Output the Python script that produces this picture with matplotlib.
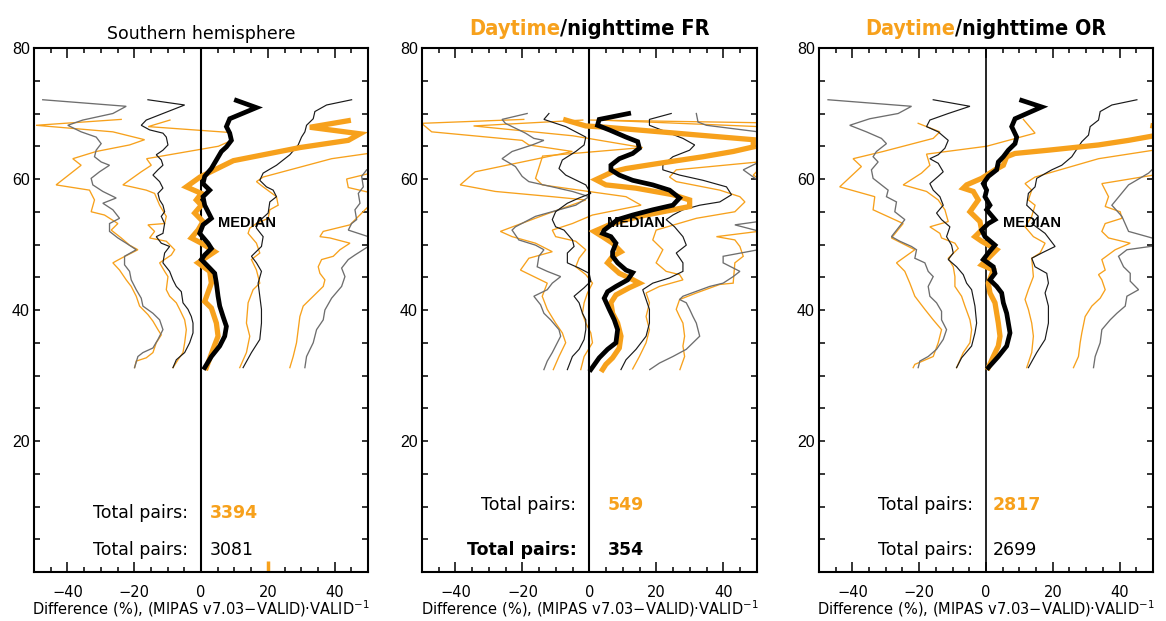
import matplotlib.pyplot as plt
from matplotlib import font_manager as fm
from matplotlib.ticker import FixedLocator, MultipleLocator

ORANGE = '#F7A11C'
GREY = '#6E6E6E'

# ---- Southern hemisphere: (difference %, altitude km), top to bottom ----
sh_night_med = [(10.6, 72.0), (16.6, 70.9), (8.6, 69.2), (7.6, 68.0), (8.6, 67.0), (9.1, 65.9),
                (7.6, 64.9), (6.1, 64.2), (4.6, 62.9), (3.1, 61.6), (1.1, 60.4), (0.6, 59.3),
                (2.6, 58.3), (0.6, 57.3), (1.1, 56.0), (3.1, 54.0), (0.6, 53.0), (-0.4, 51.7),
                (2.1, 50.2), (3.1, 49.4), (1.1, 48.4), (0.1, 47.7), (2.6, 46.4), (4.1, 45.6),
                (4.6, 44.1), (5.1, 42.1), (5.6, 40.6), (6.6, 39.0), (7.6, 37.5), (7.1, 36.0),
                (5.6, 34.5), (3.1, 32.9), (1.1, 31.2)]
sh_day_med = [(44.1, 68.9), (32.6, 67.9), (47.6, 66.9), (44.1, 65.9), (29.6, 64.8), (9.7, 62.8),
              (3.7, 61.3), (-0.3, 60.3), (-4.4, 58.8), (0.1, 57.8), (-1.4, 56.8), (0.1, 56.0),
              (-1.9, 54.8), (0.6, 53.5), (-0.9, 52.2), (-2.9, 51.0), (0.1, 50.2), (4.1, 48.9),
              (-0.9, 47.2), (2.6, 45.9), (3.1, 44.1), (1.1, 41.3), (3.1, 40.3), (4.6, 38.0),
              (5.1, 36.0), (3.6, 34.0), (1.6, 31.2)]
sh_night_p75 = [(45.1, 72.1), (37.6, 71.3), (34.1, 70.3), (33.6, 69.2), (31.6, 68.2), (31.1, 67.2),
                (30.1, 66.4), (29.1, 65.2), (26.6, 63.7), (22.6, 62.1), (18.6, 60.9), (17.6, 59.8),
                (19.6, 58.8), (21.6, 58.3), (22.6, 57.3), (20.6, 56.5), (20.1, 54.8), (16.6, 53.2),
                (16.6, 52.5), (18.6, 51.2), (18.1, 49.7), (15.1, 48.2), (16.6, 47.2), (18.1, 45.9),
                (17.1, 44.1), (17.6, 42.1), (18.1, 40.1), (18.1, 38.0), (17.6, 35.5), (15.1, 33.5),
                (12.6, 31.2)]
sh_day_p75 = [(72.0, 69.0), (60.0, 64.8), (50.1, 63.9), (39.1, 63.1), (18.6, 60.3), (16.6, 59.6),
              (18.6, 58.8), (22.6, 57.3), (23.1, 56.0), (20.6, 55.3), (20.1, 54.0), (16.6, 53.2),
              (14.6, 52.5), (14.1, 51.7), (16.6, 50.2), (17.6, 48.7), (15.1, 47.7), (16.6, 46.1),
              (17.6, 44.1), (15.6, 43.1), (14.1, 41.1), (13.6, 38.0), (14.6, 36.0), (13.6, 33.5),
              (11.6, 31.2)]
sh_night_p90 = [(70.0, 72.0), (62.0, 66.0), (56.0, 62.5), (49.6, 61.4), (48.1, 60.4), (48.6, 58.8),
                (47.1, 57.8), (47.6, 56.3), (46.1, 55.3), (46.6, 53.8), (45.1, 53.2), (44.1, 52.2),
                (50.1, 51.2), (55.0, 50.5), (50.1, 49.7), (46.1, 48.4), (44.1, 47.7), (42.1, 46.4),
                (43.1, 45.1), (42.1, 43.6), (39.1, 41.8), (37.1, 40.0), (36.6, 38.5), (34.6, 37.0),
                (33.6, 35.0), (31.6, 32.9), (31.1, 31.2)]
sh_day_p90 = [(80.0, 69.0), (66.0, 62.5), (50.0, 60.8), (43.6, 60.0), (44.1, 58.7), (50.0, 58.0),
              (57.0, 57.0), (50.1, 55.8), (44.6, 53.0), (36.6, 52.0), (35.6, 51.2), (38.6, 51.0),
              (44.6, 50.2), (41.6, 49.2), (39.6, 48.2), (36.1, 47.7), (35.1, 46.6), (35.6, 45.6),
              (37.1, 44.6), (36.6, 43.6), (34.6, 42.6), (32.6, 41.6), (30.6, 40.6), (29.6, 39.0),
              (29.1, 37.0), (28.6, 35.0), (27.6, 32.9), (26.6, 31.2)]
sh_night_p25 = [(-15.9, 72.1), (-4.9, 71.3), (-11.4, 70.0), (-16.4, 69.0), (-17.9, 68.2), (-15.4, 67.5),
                (-11.4, 67.0), (-10.4, 66.4), (-9.9, 65.2), (-11.4, 64.4), (-13.4, 63.7), (-11.9, 62.9),
                (-11.4, 62.1), (-12.9, 61.4), (-14.4, 60.6), (-12.4, 59.6), (-11.4, 58.6), (-12.9, 57.8),
                (-12.4, 56.8), (-11.4, 56.0), (-10.9, 55.0), (-11.9, 54.3), (-10.9, 53.2), (-11.4, 51.7),
                (-13.4, 51.2), (-11.9, 50.2), (-9.4, 49.7), (-10.9, 48.7), (-11.4, 47.2), (-9.4, 45.9),
                (-8.4, 44.6), (-7.4, 43.6), (-5.9, 42.8), (-5.4, 41.1), (-3.9, 40.1), (-2.9, 39.0),
                (-2.4, 38.0), (-2.4, 36.5), (-3.4, 35.0), (-4.9, 33.5), (-7.4, 32.4), (-8.4, 31.2)]
sh_day_p25 = [(-9.3, 69.0), (-15.8, 68.0), (8.7, 67.1), (9.2, 65.9), (5.2, 65.0), (-16.3, 63.1),
              (-14.9, 62.1), (-17.9, 61.1), (-23.4, 59.1), (-16.4, 58.3), (-13.9, 57.8), (-12.4, 56.0),
              (-10.4, 54.3), (-10.9, 53.2), (-15.9, 53.0), (-13.9, 52.0), (-15.4, 51.0), (-10.4, 50.5),
              (-7.9, 49.2), (-8.9, 48.4), (-12.4, 47.2), (-10.9, 45.9), (-9.9, 45.1), (-10.4, 43.1),
              (-9.4, 42.1), (-7.4, 41.1), (-6.4, 40.1), (-4.9, 38.5), (-4.4, 37.0), (-4.9, 35.0),
              (-5.4, 33.5), (-6.9, 32.4), (-8.4, 31.2)]
sh_night_p10 = [(-47.4, 72.1), (-22.4, 71.1), (-26.4, 70.0), (-35.4, 69.0), (-39.9, 68.2), (-35.9, 67.2),
                (-31.4, 66.4), (-29.9, 65.4), (-31.4, 64.4), (-31.9, 63.4), (-29.9, 62.6), (-27.4, 62.1),
                (-30.4, 61.1), (-32.9, 60.1), (-32.4, 59.1), (-29.4, 58.1), (-25.4, 57.1), (-29.4, 56.3),
                (-26.4, 55.3), (-24.4, 54.0), (-27.4, 53.2), (-27.4, 52.0), (-24.9, 51.0), (-22.4, 50.2),
                (-19.4, 49.2), (-22.9, 48.2), (-22.9, 46.9), (-21.4, 45.9), (-20.9, 44.6), (-19.4, 43.1),
                (-17.9, 41.8), (-17.4, 40.6), (-14.4, 39.5), (-12.4, 38.5), (-11.4, 37.0), (-12.9, 35.5),
                (-14.4, 34.2), (-17.4, 33.5), (-18.9, 32.9), (-19.9, 31.2)]
sh_day_p10 = [(-23.9, 69.1), (-49.4, 68.2), (-26.4, 67.2), (-16.9, 66.0), (-21.4, 65.2), (-31.4, 64.2),
              (-38.4, 63.1), (-35.9, 62.1), (-43.4, 59.1), (-33.4, 58.3), (-31.9, 56.8), (-32.9, 55.0),
              (-28.9, 54.5), (-24.9, 53.2), (-26.9, 52.2), (-23.9, 51.0), (-21.4, 49.9), (-18.9, 49.2),
              (-23.9, 47.9), (-26.4, 47.2), (-24.4, 46.1), (-22.4, 44.6), (-20.9, 43.6), (-19.4, 42.1),
              (-18.4, 40.6), (-15.9, 39.3), (-14.4, 38.3), (-12.9, 37.0), (-11.9, 36.2), (-13.4, 35.0),
              (-14.4, 33.5), (-16.4, 32.7), (-19.4, 32.2), (-19.9, 31.2)]
sh_day_marker = [(20.0, 0.0), (20.0, 1.7)]

# ---- Full resolution ----
fr_night_med = [(11.7, 70.0), (2.9, 69.1), (2.4, 68.2), (5.9, 67.5), (10.9, 66.4), (14.4, 65.7),
                (14.9, 64.7), (12.9, 63.9), (8.9, 63.1), (6.4, 62.1), (6.4, 61.4), (8.9, 60.6),
                (12.9, 59.8), (18.9, 59.1), (23.9, 58.3), (26.9, 57.1), (24.9, 56.0), (18.9, 55.3),
                (12.9, 54.5), (8.4, 53.8), (6.4, 53.0), (4.4, 52.2), (3.9, 51.7), (6.4, 51.2),
                (7.9, 50.2), (6.9, 48.9), (6.9, 48.2), (8.4, 47.2), (10.9, 46.1), (12.9, 45.7),
                (11.4, 44.6), (7.9, 43.6), (5.4, 42.8), (4.4, 41.8), (5.9, 40.1), (7.4, 38.5),
                (8.4, 37.0), (7.9, 35.0), (5.4, 34.0), (2.9, 32.7), (0.4, 30.9)]
fr_day_med = [(-7.1, 69.0), (-1.1, 68.1), (4.9, 67.9), (48.9, 66.0), (48.9, 64.9), (42.9, 64.2),
              (33.9, 63.4), (20.9, 62.4), (10.9, 61.6), (6.9, 61.1), (1.9, 59.9), (4.9, 59.1),
              (13.9, 58.6), (24.9, 57.6), (29.9, 56.8), (29.9, 55.8), (24.9, 55.3), (16.9, 54.5),
              (10.9, 53.8), (5.9, 53.0), (1.4, 52.0), (3.9, 51.2), (6.9, 50.2), (9.4, 48.9),
              (6.9, 48.2), (5.4, 47.2), (8.9, 45.6), (11.9, 44.9), (14.9, 44.1), (11.9, 43.4),
              (7.9, 42.3), (6.4, 41.1), (6.9, 39.5), (8.4, 38.0), (9.4, 36.0), (8.9, 34.2),
              (6.9, 32.7), (4.9, 31.7), (3.9, 30.9)]
fr_night_p75 = [(24.4, 70.0), (17.9, 69.1), (17.9, 68.2), (22.9, 67.2), (27.9, 66.2), (31.4, 65.2),
                (29.9, 64.4), (24.9, 63.4), (21.9, 62.1), (21.9, 61.4), (26.9, 60.6), (33.9, 59.8),
                (40.9, 58.8), (42.4, 57.6), (38.9, 56.5), (32.9, 56.0), (27.9, 55.3), (24.9, 54.5),
                (22.9, 53.8), (25.4, 52.7), (27.9, 51.2), (28.9, 49.9), (25.9, 48.7), (27.9, 47.2),
                (27.9, 45.9), (23.9, 44.9), (18.9, 44.1), (15.9, 43.1), (16.9, 41.6), (17.9, 40.1),
                (17.9, 38.0), (16.9, 36.0), (13.9, 34.0), (10.9, 32.4), (9.4, 30.9)]
fr_day_p75 = [(0.4, 69.0), (62.0, 68.5), (66.0, 64.0), (50.4, 62.6), (25.9, 61.4), (23.9, 60.3),
              (25.9, 59.6), (38.9, 58.3), (44.9, 57.3), (46.4, 56.5), (43.4, 55.0), (31.9, 54.0),
              (19.9, 52.2), (18.9, 50.7), (21.9, 49.2), (19.9, 47.2), (22.9, 45.9), (26.9, 45.4),
              (27.9, 44.6), (20.9, 43.6), (16.9, 42.6), (17.9, 41.1), (16.9, 39.0), (17.9, 37.0),
              (16.9, 35.0), (14.9, 32.9), (12.9, 31.0)]
fr_night_p90 = [(31.9, 70.0), (32.4, 68.7), (34.9, 68.2), (50.4, 67.2), (62.0, 64.5), (49.9, 62.4),
                (45.9, 61.4), (48.9, 60.3), (58.0, 57.0), (50.4, 53.5), (43.4, 53.0), (49.4, 52.2),
                (58.0, 51.0), (50.4, 49.2), (39.9, 48.2), (39.9, 47.2), (44.9, 45.9), (42.9, 45.1),
                (39.9, 44.1), (35.9, 43.6), (27.9, 42.1), (26.9, 41.6), (28.9, 41.1), (29.9, 40.1),
                (30.9, 39.0), (31.9, 38.0), (32.9, 36.0), (28.9, 34.0), (24.9, 32.9), (20.9, 31.9),
                (18.0, 30.9)]
fr_day_p90 = [(3.0, 69.0), (60.0, 67.8), (64.0, 62.5), (50.4, 61.4), (48.9, 60.6), (50.4, 60.1),
              (60.0, 56.0), (50.4, 52.0), (37.9, 51.2), (43.4, 50.7), (44.9, 49.7), (45.9, 48.2),
              (43.4, 47.2), (42.9, 44.1), (38.9, 43.9), (31.9, 42.6), (26.9, 41.6), (25.9, 40.1),
              (26.9, 39.0), (27.9, 38.0), (28.4, 36.0), (27.9, 34.5), (28.4, 32.9), (27.0, 30.9)]
fr_night_p25 = [(-12.1, 70.0), (-13.6, 69.1), (-7.1, 68.0), (-1.1, 66.4), (-1.6, 65.2), (-4.1, 64.2),
                (-8.1, 62.9), (-9.1, 61.6), (-7.1, 60.6), (-1.1, 59.1), (0.4, 57.8), (-3.1, 57.1),
                (-6.6, 56.3), (-10.1, 55.0), (-11.1, 53.8), (-10.1, 52.7), (-7.6, 52.2), (-5.1, 50.7),
                (-4.6, 49.7), (-6.6, 48.7), (-6.6, 47.2), (-3.1, 46.4), (-0.1, 45.6), (0.4, 44.4),
                (-1.6, 43.4), (-4.6, 42.1), (-3.1, 41.1), (-2.1, 39.5), (-1.1, 38.5), (-1.1, 37.0),
                (-1.6, 35.5), (-3.1, 34.0), (-5.1, 32.9), (-6.6, 30.9)]
fr_day_p25 = [(-2.0, 69.0), (-34.6, 68.1), (-5.0, 66.6), (15.9, 64.8), (-14.0, 63.5), (-16.1, 60.1),
              (-14.1, 59.1), (-3.1, 58.3), (10.9, 57.3), (15.4, 56.0), (0.9, 54.5), (-5.1, 53.2),
              (-11.1, 52.2), (-10.1, 51.2), (-4.1, 50.5), (-1.1, 49.2), (-3.1, 47.9), (-4.1, 46.6),
              (-1.1, 45.4), (0.9, 44.1), (-0.6, 42.6), (-1.6, 41.1), (-2.1, 39.5), (-1.1, 38.0),
              (0.4, 36.5), (0.9, 35.0), (-1.6, 32.9), (-2.6, 30.9)]
fr_night_p10 = [(-18.6, 70.0), (-26.1, 69.1), (-25.1, 68.5), (-19.1, 67.0), (-16.6, 66.2), (-13.6, 65.9),
                (-17.1, 65.2), (-23.1, 64.2), (-26.1, 63.1), (-22.1, 61.9), (-20.1, 60.4), (-18.1, 59.6),
                (-11.1, 58.8), (-5.1, 58.1), (-0.1, 57.3), (-4.1, 56.0), (-9.1, 55.3), (-16.1, 54.3),
                (-22.1, 52.7), (-23.1, 52.2), (-21.1, 50.7), (-16.1, 49.9), (-13.6, 49.2), (-15.1, 48.2),
                (-15.6, 46.6), (-12.6, 45.9), (-8.6, 45.1), (-11.1, 44.1), (-12.6, 43.1), (-16.6, 42.1),
                (-14.6, 40.8), (-13.6, 39.5), (-11.6, 38.5), (-9.1, 37.0), (-8.6, 36.0), (-9.6, 35.0),
                (-11.1, 33.5), (-12.6, 32.2), (-13.6, 30.9)]
fr_day_p10 = [(-19.6, 69.1), (-50.1, 68.5), (-47.1, 67.2), (-20.1, 65.9), (-18.1, 65.2), (-5.1, 64.2),
              (-34.1, 61.1), (-38.6, 59.1), (-28.1, 58.1), (-11.1, 57.3), (-1.1, 56.8), (-12.0, 54.8),
              (-26.6, 52.0), (-23.1, 51.2), (-16.1, 50.2), (-11.1, 48.9), (-18.1, 47.9), (-20.6, 46.1),
              (-12.6, 44.1), (-14.1, 42.1), (-12.6, 40.1), (-10.1, 38.0), (-8.1, 36.5), (-7.1, 35.0),
              (-9.1, 32.9), (-10.8, 30.9)]

# ---- Optimized resolution ----
or_night_med = [(10.7, 72.0), (16.7, 71.0), (8.7, 69.2), (7.7, 68.0), (9.2, 66.4), (8.7, 65.4),
                (6.7, 64.4), (5.2, 63.4), (3.7, 62.6), (3.2, 61.4), (0.7, 60.4), (-0.8, 59.3),
                (0.2, 58.3), (-0.3, 57.3), (1.2, 56.0), (0.2, 55.3), (2.7, 53.8), (0.7, 53.2),
                (-1.3, 52.2), (-0.3, 51.2), (2.7, 49.9), (0.7, 48.7), (-0.8, 47.7), (2.2, 46.6),
                (2.7, 45.6), (1.2, 44.6), (3.2, 43.6), (4.7, 42.6), (5.2, 41.1), (6.2, 39.5),
                (6.7, 38.0), (7.2, 36.5), (6.2, 34.5), (3.7, 32.9), (0.7, 31.2)]
or_day_med = [(50.0, 68.1), (58.0, 67.3), (42.7, 65.9), (33.7, 65.2), (18.7, 64.4), (8.7, 63.9),
              (6.2, 63.4), (5.2, 62.1), (2.7, 61.4), (-1.3, 60.1), (-5.8, 59.1), (-6.8, 58.6),
              (-3.8, 58.1), (-2.3, 56.8), (-4.8, 55.0), (-1.8, 53.5), (-1.3, 52.2), (-3.3, 51.2),
              (-1.3, 50.5), (3.2, 49.2), (-1.3, 46.9), (2.2, 46.1), (0.7, 44.1), (1.2, 42.6),
              (2.7, 41.1), (3.7, 38.0), (4.2, 36.0), (3.7, 34.5), (2.2, 32.9), (0.7, 31.2)]
or_night_p75 = [(45.2, 72.1), (37.7, 71.3), (34.2, 70.3), (33.7, 69.0), (31.2, 68.0), (30.7, 66.7),
                (28.7, 65.7), (25.7, 63.4), (22.7, 62.1), (19.7, 61.4), (15.2, 60.1), (14.7, 58.8),
                (12.7, 57.8), (12.2, 56.0), (15.7, 54.3), (13.7, 53.2), (17.7, 51.7), (20.7, 49.7),
                (16.7, 48.7), (13.7, 47.9), (14.7, 46.6), (18.2, 45.6), (18.7, 44.1), (17.7, 42.6),
                (18.7, 40.6), (18.7, 38.0), (17.7, 35.5), (15.2, 33.5), (12.7, 31.2)]
or_day_p75 = [(72.0, 69.0), (60.0, 65.2), (50.2, 64.4), (33.7, 63.1), (14.7, 60.3), (11.7, 59.3),
              (13.7, 58.3), (12.7, 56.8), (14.7, 56.0), (13.7, 54.3), (11.7, 52.7), (14.2, 51.2),
              (17.7, 50.2), (16.2, 48.7), (13.7, 47.9), (14.2, 45.1), (12.7, 43.1), (11.7, 41.6),
              (12.7, 40.1), (13.7, 38.0), (14.2, 36.0), (13.7, 33.5), (12.2, 31.2)]
or_night_p90 = [(70.0, 72.0), (62.0, 65.0), (49.7, 61.4), (48.7, 60.9), (42.7, 59.1), (37.7, 56.0),
                (40.7, 54.3), (42.7, 52.0), (49.7, 51.0), (58.0, 50.3), (49.2, 49.7), (42.2, 49.2),
                (39.7, 48.2), (41.2, 46.6), (43.2, 45.6), (43.2, 44.4), (45.7, 43.1), (42.2, 42.1),
                (41.7, 40.6), (39.2, 39.5), (37.2, 38.5), (34.7, 37.0), (34.2, 35.0), (32.7, 32.9),
                (32.2, 31.2)]
or_day_p90 = [(75.0, 68.0), (65.0, 62.0), (50.2, 60.6), (40.7, 59.8), (34.7, 59.3), (35.2, 58.8),
              (36.7, 57.3), (35.7, 55.8), (40.2, 55.0), (40.7, 54.0), (35.7, 53.2), (34.7, 52.0),
              (36.7, 51.0), (43.2, 50.2), (38.7, 49.2), (34.7, 47.7), (35.7, 46.1), (33.7, 45.4),
              (34.7, 44.6), (35.7, 43.1), (34.2, 41.8), (31.7, 40.6), (29.7, 39.0), (28.7, 36.5),
              (28.2, 35.0), (27.7, 32.9), (26.2, 31.2)]
or_night_p25 = [(-15.8, 72.1), (-4.8, 71.1), (-11.3, 70.0), (-16.8, 69.0), (-17.8, 68.0), (-14.3, 67.2),
                (-11.3, 65.9), (-12.3, 64.7), (-14.3, 63.7), (-16.8, 63.1), (-14.3, 62.4), (-12.8, 61.1),
                (-14.3, 60.4), (-16.8, 59.3), (-15.8, 58.3), (-13.8, 57.3), (-12.8, 56.0), (-14.8, 54.8),
                (-13.3, 53.8), (-10.8, 52.7), (-11.8, 51.2), (-10.3, 49.9), (-9.8, 48.7), (-11.3, 47.7),
                (-8.8, 46.6), (-6.8, 45.4), (-5.8, 44.1), (-4.3, 43.1), (-3.3, 40.6), (-2.8, 38.0),
                (-3.3, 36.5), (-4.3, 34.5), (-7.3, 32.7), (-8.8, 31.2)]
or_day_p25 = [(11.2, 69.1), (14.7, 67.0), (0.2, 65.0), (-17.8, 63.8), (-16.8, 62.1), (-19.3, 60.9),
              (-24.8, 59.1), (-17.8, 58.1), (-14.3, 56.8), (-12.3, 55.3), (-11.3, 53.5), (-16.8, 52.7),
              (-13.8, 51.7), (-13.3, 51.0), (-9.3, 50.2), (-8.3, 49.4), (-11.3, 47.9), (-9.8, 46.6),
              (-9.3, 45.1), (-9.3, 43.6), (-7.3, 42.1), (-6.3, 40.6), (-4.8, 38.5), (-4.3, 37.0),
              (-4.8, 35.0), (-6.8, 33.5), (-8.8, 31.2)]
or_night_p10 = [(-47.3, 72.1), (-22.3, 71.1), (-26.3, 70.0), (-34.8, 69.2), (-40.8, 68.2), (-35.8, 67.2),
                (-31.3, 66.2), (-29.8, 65.4), (-32.8, 64.2), (-33.8, 63.4), (-32.3, 62.6), (-34.3, 61.4),
                (-33.8, 60.1), (-31.3, 59.1), (-29.3, 58.3), (-29.8, 57.3), (-26.8, 56.5), (-27.3, 55.0),
                (-24.3, 53.8), (-28.3, 51.2), (-25.8, 50.5), (-22.3, 49.7), (-20.8, 49.2), (-21.3, 47.9),
                (-18.3, 47.2), (-17.3, 45.9), (-15.8, 45.1), (-17.3, 43.6), (-16.8, 42.1), (-14.8, 41.1),
                (-13.3, 39.8), (-13.3, 38.5), (-11.8, 37.0), (-12.8, 35.5), (-14.8, 34.0), (-17.3, 32.9),
                (-19.8, 32.2), (-20.3, 31.2)]
or_day_p10 = [(-20.3, 68.5), (-13.8, 67.2), (-15.8, 66.2), (-30.8, 64.2), (-39.8, 63.1), (-37.3, 61.9),
              (-43.8, 58.8), (-33.3, 57.3), (-33.8, 55.3), (-24.8, 53.2), (-28.3, 51.0), (-21.3, 49.2),
              (-26.8, 47.2), (-24.3, 45.9), (-22.8, 44.1), (-21.3, 42.1), (-18.3, 40.1), (-15.8, 38.5),
              (-13.3, 37.0), (-14.3, 35.0), (-15.8, 32.9), (-21.3, 31.7), (-21.8, 31.2)]

pairs_day = [3394, 549, 2817]
pairs_night = [3081, 354, 2699]

panels = [
    dict(night=[sh_night_p10, sh_night_p25, sh_night_p75, sh_night_p90], night_med=sh_night_med,
         day=[sh_day_p10, sh_day_p25, sh_day_p75, sh_day_p90], day_med=sh_day_med,
         pos=[0.0292, 0.0789, 0.2864, 0.8438], title=('Southern hemisphere', None),
         pairs_y=(9.0, 3.4), num_x=2.7, bold_night=False),
    dict(night=[fr_night_p10, fr_night_p25, fr_night_p75, fr_night_p90], night_med=fr_night_med,
         day=[fr_day_p10, fr_day_p25, fr_day_p75, fr_day_p90], day_med=fr_day_med,
         pos=[0.3619, 0.0789, 0.2873, 0.8438], title=('Daytime', '/nighttime FR'),
         pairs_y=(10.2, 3.4), num_x=5.5, bold_night=True),
    dict(night=[or_night_p10, or_night_p25, or_night_p75, or_night_p90], night_med=or_night_med,
         day=[or_day_p10, or_day_p25, or_day_p75, or_day_p90], day_med=or_day_med,
         pos=[0.7024, 0.0789, 0.2864, 0.8438], title=('Daytime', '/nighttime OR'),
         pairs_y=(10.2, 3.4), num_x=2.1, bold_night=False),
]


def narrow_bold_font(size):
    """Pick a narrow bold face for the day/night headings."""
    widths = ['ultra-condensed', 'extra-condensed', 'condensed', 'semi-condensed']
    found = []
    for f in fm.fontManager.ttflist:
        w = f.weight if isinstance(f.weight, int) else fm.weight_dict.get(f.weight, 400)
        if f.stretch in widths and f.style == 'normal' and w >= 600:
            found.append((widths.index(f.stretch), abs(w - 700), f.fname))
    if found:
        found.sort()
        return fm.FontProperties(fname=found[0][2], size=size)
    return fm.FontProperties(family=['Roboto', 'DejaVu Sans'], weight='bold', size=size)


def draw(ax, curve, **kw):
    xs = [p[0] for p in curve]
    ys = [p[1] for p in curve]
    ax.plot(xs, ys, solid_joinstyle='miter', **kw)


fig = plt.figure(figsize=(11.66, 6.21), dpi=100)
split_titles = []

for i, p in enumerate(panels):
    ax = fig.add_axes(p['pos'])
    ax.set_xlim(-50, 50)
    ax.set_ylim(0, 80)

    # outer and inner percentiles
    lo_n, in_n, in_n2, hi_n = p['night']
    for c in p['day']:
        draw(ax, c, color=ORANGE, lw=0.95)
    draw(ax, lo_n, color=GREY, lw=0.95)
    draw(ax, hi_n, color=GREY, lw=0.95)
    draw(ax, in_n, color='#1a1a1a', lw=0.85)
    draw(ax, in_n2, color='#1a1a1a', lw=0.85)

    ax.axvline(0, color='black', lw=1.5 if i < 2 else 1.2)
    draw(ax, p['day_med'], color=ORANGE, lw=3.8)
    draw(ax, p['night_med'], color='black', lw=3.4)
    if i == 0:
        draw(ax, sh_day_marker, color=ORANGE, lw=2.5, solid_capstyle='butt')

    ax.text(5.1, 53.3, 'MEDIAN', fontsize=10.5, family='Liberation Sans', fontweight='bold',
            va='center', ha='left')

    # pair counts
    y1, y2 = p['pairs_y']
    ax.text(-3.9, y1, 'Total pairs:', fontsize=12.5, ha='right', va='center')
    ax.text(-3.9, y2, 'Total pairs:', fontsize=12.5, ha='right', va='center',
            fontweight='bold' if p['bold_night'] else 'normal')
    ax.text(p['num_x'], y1, str(pairs_day[i]), fontsize=12.5, color=ORANGE, fontweight='heavy',
            ha='left', va='center')
    ax.text(p['num_x'], y2, str(pairs_night[i]), fontsize=12.5, color='black', ha='left',
            va='center', fontweight='semibold' if p['bold_night'] else 'normal')

    # axes styling
    for s in ax.spines.values():
        s.set_linewidth(1.5)
    ax.xaxis.set_major_locator(FixedLocator([-40, -20, 0, 20, 40]))
    ax.xaxis.set_minor_locator(MultipleLocator(5))
    ax.yaxis.set_minor_locator(MultipleLocator(5))
    ax.set_yticks([20, 40, 60, 80], labels=['20', '40', '60', '80'],
                  fontfamily='Liberation Sans', fontsize=11.5)
    ax.tick_params(axis='x', which='major', direction='in', length=7.2, width=1.1, top=True,
                   pad=9, labelsize=10.5)
    ax.tick_params(axis='x', which='minor', direction='in', length=3.6, width=1.1, top=True)
    ax.tick_params(axis='y', which='both', direction='in', length=4.3, width=1.1, right=True, pad=3)
    ax.set_xlabel('Difference (%), (MIPAS v7.03\u2212VALID)\u00b7VALID$^{-1}$', fontsize=10.5,
                  labelpad=-1)

    first, rest = p['title']
    if rest is None:
        ax.text(0.5, 1.017, first, transform=ax.transAxes, ha='center', va='baseline',
                fontsize=12.5)
    else:
        font = narrow_bold_font(21)
        t1 = ax.text(0.3, 1.025, first, transform=ax.transAxes, ha='left', va='baseline',
                     color=ORANGE, fontproperties=font)
        t2 = ax.annotate(rest, xy=(1, 0), xycoords=t1, ha='left', va='bottom', color='black',
                         fontproperties=font)
        split_titles.append((ax, t1, t2))

# keep the two-colour headings about 0.72 of the panel wide and centred
fig.canvas.draw()
r = fig.canvas.get_renderer()
for ax, t1, t2 in split_titles:
    w = t1.get_window_extent(r).width + t2.get_window_extent(r).width
    target = 0.72 * ax.bbox.width
    if w > target:
        size = t1.get_fontsize() * target / w
        t1.set_fontsize(size)
        t2.set_fontsize(size)
fig.canvas.draw()
for ax, t1, t2 in split_titles:
    w = t1.get_window_extent(r).width + t2.get_window_extent(r).width
    t1.set_x(0.5 - 0.5 * w / ax.bbox.width)

fig.savefig('out.png', dpi=100)
